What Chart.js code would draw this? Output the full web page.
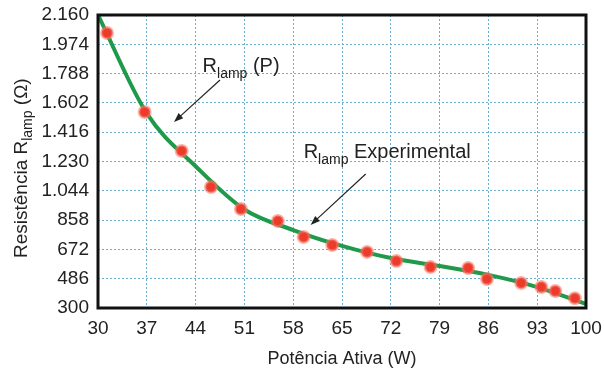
<!DOCTYPE html>
<html>
<head>
<meta charset="utf-8">
<script src="https://cdn.jsdelivr.net/npm/chart.js@4.4.1/dist/chart.umd.min.js"></script>
<style>
  html, body { margin: 0; padding: 0; background: #ffffff; }
  #wrap { width: 604px; height: 374px; position: relative; }
</style>
</head>
<body>
<div id="wrap"><canvas id="chart"></canvas></div>
<script>
// tick values
const xTicks = [30, 37, 44, 51, 58, 65, 72, 79, 86, 93, 100];
const yTicks = [300, 486, 672, 858, 1044, 1230, 1416, 1602, 1788, 1974, 2160];

// measured points (Rlamp Experimental)
const expP = [31.3, 36.7, 42.0, 46.2, 50.5, 55.8, 59.5, 63.6, 68.6, 72.8, 77.7, 83.1, 85.8, 90.7, 93.6, 95.6, 98.4];
const expR = [2046, 1544, 1297, 1068, 928, 852, 751, 700, 656, 598, 560, 554, 484, 459, 433, 408, 362];

// fitted curve Rlamp(P) at the x ticks
const fitP = [30, 37, 44, 51, 58, 65, 72, 79, 86, 93, 100];
const fitR = [2160, 1535, 1200, 925, 795, 694, 617, 567, 510, 433, 325];

const FONT = "'Liberation Sans', Arial, sans-serif";

// pt-BR style thousands separator
function fmt(v) {
  return String(v).replace(/\B(?=(\d{3})+(?!\d))/g, ".");
}

// draw text runs with a subscript part
function drawRuns(ctx, x, y, runs) {
  let cx = x;
  runs.forEach(r => {
    ctx.font = r.size + "px " + FONT;
    ctx.fillText(r.t, cx, y + (r.dy || 0));
    cx += ctx.measureText(r.t).width;
  });
}

const extras = {
  id: "extras",
  afterDraw(chart) {
    const ctx = chart.ctx;
    const xs = chart.scales.x, ys = chart.scales.y;
    const a = chart.chartArea;
    ctx.save();

    // frame around plot
    ctx.strokeStyle = "#111111";
    ctx.lineWidth = 3;
    ctx.strokeRect(a.left, a.top, a.right - a.left, a.bottom - a.top);

    // y axis title, rotated
    ctx.fillStyle = "#222222";
    ctx.textBaseline = "alphabetic";
    ctx.translate(27, 258);
    ctx.rotate(-Math.PI / 2);
    drawRuns(ctx, 0, 0, [
      { t: "Resistência R", size: 19 },
      { t: "lamp", size: 14, dy: 5 },
      { t: " (Ω)", size: 19 }
    ]);
    ctx.setTransform(1, 0, 0, 1, 0, 0);

    // annotations
    ctx.fillStyle = "#222222";
    drawRuns(ctx, xs.getPixelForValue(45.0), ys.getPixelForValue(1798), [
      { t: "R", size: 20 },
      { t: "lamp", size: 14, dy: 6 },
      { t: " (P)", size: 20 }
    ]);
    drawRuns(ctx, xs.getPixelForValue(59.5), ys.getPixelForValue(1252), [
      { t: "R", size: 20 },
      { t: "lamp", size: 14, dy: 6 },
      { t: " Experimental", size: 20 }
    ]);

    function arrow(p1, r1, p2, r2) {
      const x1 = xs.getPixelForValue(p1), y1 = ys.getPixelForValue(r1);
      const x2 = xs.getPixelForValue(p2), y2 = ys.getPixelForValue(r2);
      const ang = Math.atan2(y2 - y1, x2 - x1);
      ctx.strokeStyle = "#222222";
      ctx.lineWidth = 1.2;
      ctx.beginPath();
      ctx.moveTo(x1, y1);
      ctx.lineTo(x2 - 6 * Math.cos(ang), y2 - 6 * Math.sin(ang));
      ctx.stroke();
      ctx.fillStyle = "#222222";
      ctx.beginPath();
      ctx.moveTo(x2, y2);
      ctx.lineTo(x2 - 10 * Math.cos(ang - 0.35), y2 - 10 * Math.sin(ang - 0.35));
      ctx.lineTo(x2 - 10 * Math.cos(ang + 0.35), y2 - 10 * Math.sin(ang + 0.35));
      ctx.closePath();
      ctx.fill();
    }
    arrow(47.5, 1747, 40.9, 1481);
    arrow(68.4, 1151, 60.5, 827);

    ctx.restore();
  }
};

new Chart(document.getElementById("chart"), {
  type: "scatter",
  data: {
    datasets: [
      {
        label: "Rlamp Experimental",
        data: expP.map((p, i) => ({ x: p, y: expR[i] })),
        backgroundColor: "#ec3a2c",
        borderColor: "rgba(245, 120, 100, 0.55)",
        borderWidth: 3,
        pointRadius: 5.5,
        order: 1
      },
      {
        label: "Rlamp(P)",
        type: "line",
        data: fitP.map((p, i) => ({ x: p, y: fitR[i] })),
        borderColor: "#1f9a4a",
        borderWidth: 4,
        pointRadius: 0,
        fill: false,
        cubicInterpolationMode: "monotone",
        order: 2
      }
    ]
  },
  options: {
    responsive: true,
    maintainAspectRatio: false,
    animation: false,
    layout: { padding: { top: 15, right: 18, left: 0, bottom: 4 } },
    plugins: {
      legend: { display: false },
      tooltip: { enabled: false }
    },
    scales: {
      x: {
        type: "linear",
        min: 30,
        max: 100,
        afterBuildTicks: s => { s.ticks = xTicks.map(v => ({ value: v })); },
        afterFit: s => {
          s.height = 62;
          s.paddingLeft = 0;
          s.paddingRight = 0;
        },
        grid: { color: "#6aaed0", lineWidth: 1, drawTicks: false },
        border: { display: false, dash: [2, 2] },
        ticks: {
          padding: 9,
          color: "#222222",
          font: { family: FONT, size: 19 },
          maxRotation: 0,
          autoSkip: false
        },
        title: {
          display: true,
          text: "Potência Ativa (W)",
          color: "#222222",
          font: { family: FONT, size: 18 },
          padding: { top: 6, bottom: 0 }
        }
      },
      y: {
        type: "linear",
        min: 300,
        max: 2160,
        afterBuildTicks: s => { s.ticks = yTicks.map(v => ({ value: v })); },
        afterFit: s => {
          s.width = 98;
          s.paddingTop = 0;
          s.paddingBottom = 0;
        },
        grid: { color: "#6aaed0", lineWidth: 1, drawTicks: false },
        border: { display: false, dash: [2, 2] },
        ticks: {
          padding: 9,
          color: "#222222",
          font: { family: FONT, size: 19 },
          autoSkip: false,
          callback: v => fmt(v)
        }
      }
    }
  },
  plugins: [extras]
});
</script>
</body>
</html>
